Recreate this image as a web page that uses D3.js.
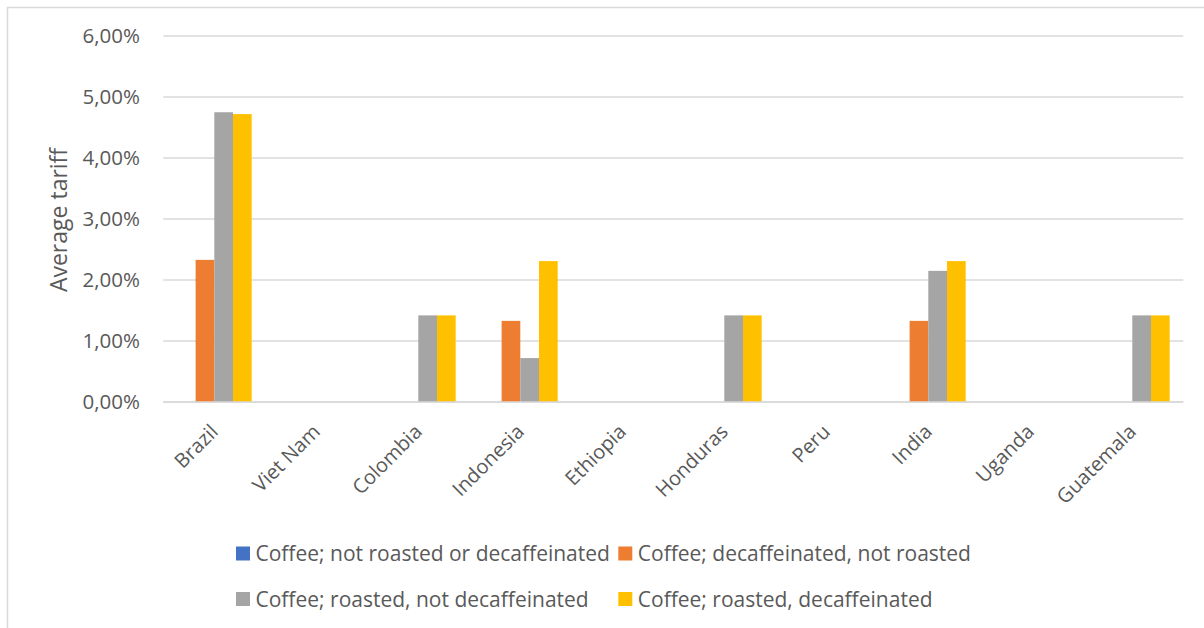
<!DOCTYPE html>
<html>
<head>
<meta charset="utf-8">
<script src="https://cdn.jsdelivr.net/npm/d3@7"></script>
<style>
  html, body { margin: 0; padding: 0; background: #fff; }
  svg { display: block; }
  text { font-family: "Open Sans", sans-serif; fill: #595959; }
</style>
</head>
<body>
<svg id="chart" width="1204" height="628"></svg>
<script>
const categories = ["Brazil", "Viet Nam", "Colombia", "Indonesia", "Ethiopia", "Honduras", "Peru", "India", "Uganda", "Guatemala"];
const seriesNames = [
  "Coffee; not roasted or decaffeinated",
  "Coffee; decaffeinated, not roasted",
  "Coffee; roasted, not decaffeinated",
  "Coffee; roasted, decaffeinated"
];
const notRoastedOrDecaf = [0, 0, 0, 0, 0, 0, 0, 0, 0, 0];
const decafNotRoasted   = [0.0233, 0, 0, 0.0133, 0, 0, 0, 0.0133, 0, 0];
const roastedNotDecaf   = [0.0475, 0, 0.0142, 0.0072, 0, 0.0142, 0, 0.0215, 0, 0.0142];
const roastedDecaf      = [0.0472, 0, 0.0142, 0.0231, 0, 0.0142, 0, 0.0231, 0, 0.0142];
const yTicks = [0, 0.01, 0.02, 0.03, 0.04, 0.05, 0.06];
const colors = ["#4472C4", "#ED7D31", "#A5A5A5", "#FFC000"];

const seriesValues = [notRoastedOrDecaf, decafNotRoasted, roastedNotDecaf, roastedDecaf];

const svg = d3.select("#chart");

// outer chart frame (only left/top edges fall inside the picture)
svg.append("rect")
  .attr("x", 7.5).attr("y", 7.5)
  .attr("width", 1230).attr("height", 650)
  .attr("fill", "none").attr("stroke", "#D9D9D9").attr("stroke-width", 1.5);

const plot = { left: 163.3, right: 1183.3, top: 36, bottom: 402 };

const x0 = d3.scaleBand().domain(categories).range([plot.left, plot.right]).paddingInner(0).paddingOuter(0);
const groupW = x0.bandwidth() * 0.733;
const x1 = d3.scaleBand().domain(d3.range(seriesNames.length)).range([0, groupW]);
const y = d3.scaleLinear().domain([0, 0.06]).range([plot.bottom, plot.top]);

const fmt = v => (v * 100).toFixed(2).replace(".", ",") + "%";

// gridlines
svg.append("g")
  .selectAll("line")
  .data(yTicks)
  .join("line")
  .attr("x1", plot.left).attr("x2", plot.right)
  .attr("y1", d => y(d)).attr("y2", d => y(d))
  .attr("stroke", "#D9D9D9").attr("stroke-width", 1.5);

// y axis labels
const yAxis = d3.axisLeft(y).tickValues(yTicks).tickFormat(fmt).tickSize(0).tickPadding(0);
const yg = svg.append("g").attr("transform", `translate(140,0)`).call(yAxis);
yg.select(".domain").remove();
yg.selectAll("text").style("font-size", "20.5px").style("font-family", "'Open Sans', sans-serif").attr("fill", "#595959");

// bars
const groups = svg.append("g")
  .selectAll("g")
  .data(categories)
  .join("g")
  .attr("transform", d => `translate(${x0(d) + (x0.bandwidth() - groupW) / 2},0)`);

groups.selectAll("rect")
  .data((d, i) => seriesValues.map((s, k) => ({ k, v: s[i] })))
  .join("rect")
  .attr("x", d => x1(d.k))
  .attr("width", x1.bandwidth())
  .attr("y", d => y(d.v))
  .attr("height", d => y(0) - y(d.v))
  .attr("fill", d => colors[d.k]);

// baseline
svg.append("line")
  .attr("x1", plot.left).attr("x2", plot.right)
  .attr("y1", y(0)).attr("y2", y(0))
  .attr("stroke", "#D9D9D9").attr("stroke-width", 1.5);

// x axis labels
const xAxis = d3.axisBottom(x0).tickSize(0).tickPadding(0);
const xg = svg.append("g").attr("transform", `translate(0,${plot.bottom})`).call(xAxis);
xg.select(".domain").remove();
xg.selectAll("text")
  .style("font-size", "20px")
  .style("font-family", "'Open Sans', sans-serif")
  .attr("fill", "#595959")
  .attr("text-anchor", "end")
  .attr("y", 0).attr("dy", 0)
  .attr("transform", "translate(5,31) rotate(-45)");

// y title
svg.append("text")
  .attr("transform", "translate(67,220) rotate(-90)")
  .attr("text-anchor", "middle")
  .style("font-size", "23px")
  .text("Average tariff");

// legend
const legendPos = [[236, 553.5], [618.3, 553.5], [236, 599], [618.3, 599]];
const lg = svg.append("g").selectAll("g").data(seriesNames).join("g")
  .attr("transform", (d, i) => `translate(${legendPos[i][0]},${legendPos[i][1]})`);
lg.append("rect").attr("x", 0).attr("y", -7).attr("width", 14).attr("height", 14)
  .attr("fill", (d, i) => colors[i]);
lg.append("text").attr("x", 19.5).attr("y", 0).attr("dy", "0.36em")
  .style("font-size", "21px").text(d => d);
</script>
</body>
</html>
